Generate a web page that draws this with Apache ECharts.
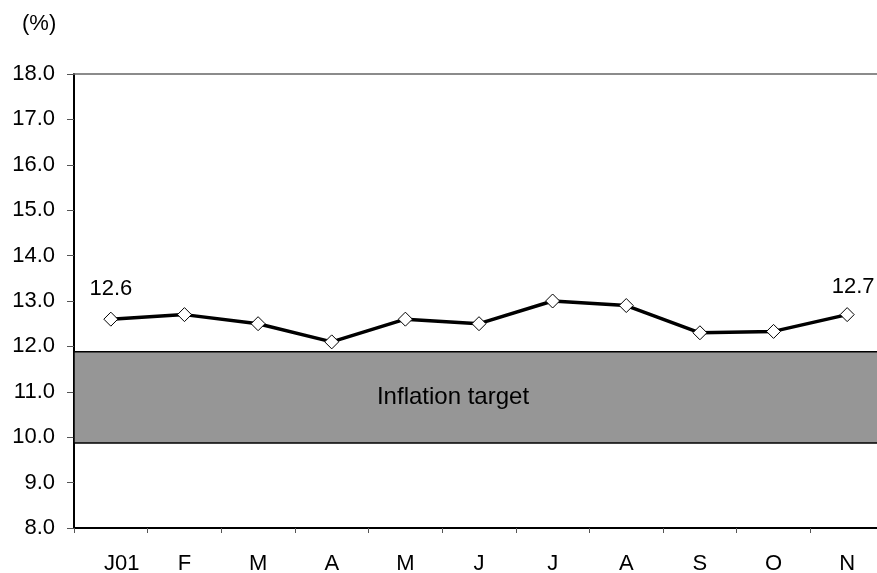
<!DOCTYPE html>
<html>
<head>
<meta charset="utf-8">
<script src="https://cdn.jsdelivr.net/npm/echarts@6/dist/echarts.min.js"></script>
<style>
  html, body { margin: 0; padding: 0; background: #fff; overflow: hidden; }
  body { width: 877px; height: 573px; }
  #chart { width: 900px; height: 573px; }
</style>
</head>
<body>
<div id="chart"></div>
<script>
// Monthly inflation, 2001
const months = ['J01', 'F', 'M', 'A', 'M', 'J', 'J', 'A', 'S', 'O', 'N'];
const inflation = [12.6, 12.7, 12.5, 12.1, 12.6, 12.5, 13.0, 12.9, 12.3, 12.33, 12.7];
const targetBand = [9.87, 11.88];
const yTicks = { min: 8, max: 18, step: 1 };

const FONT = '"Liberation Sans", Arial, sans-serif';
const FS = 22;
const lastIdx = inflation.length - 1;

// Only the first and last points carry a value label
const lineData = inflation.map(function (v, i) {
  if (i === 0) return { value: v, label: { show: true, distance: 12 } };
  if (i === lastIdx) return { value: v, label: { show: true, distance: 9, offset: [6, 0] } };
  return v;
});

const chart = echarts.init(document.getElementById('chart'), null, { renderer: 'canvas' });

chart.setOption({
  animation: false,
  backgroundColor: '#ffffff',
  textStyle: { fontFamily: FONT },
  graphic: [{
    type: 'text', left: 22, top: 13,
    style: { text: '(%)', font: FS + 'px ' + FONT, fill: '#000' }
  }],
  grid: {
    left: 74, top: 74, width: 810, height: 454,
    containLabel: false, outerBoundsMode: 'none'
  },
  xAxis: [{
    type: 'category',
    data: months,
    boundaryGap: true,
    axisLine: { lineStyle: { color: '#000', width: 2 } },
    axisTick: { show: true, interval: 0, length: 5, lineStyle: { color: '#555', width: 1 } },
    axisLabel: {
      interval: 0,
      margin: 25,
      fontSize: FS, color: '#000', fontFamily: FONT,
      formatter: function (v, i) { return i === 0 ? '{first|' + v + '}' : v; },
      rich: { first: { fontSize: FS, fontFamily: FONT, color: '#000', padding: [0, 0, 0, 22] } }
    },
    splitLine: { show: false }
  }, {
    type: 'category',
    position: 'top',
    data: months,
    axisLine: { lineStyle: { color: '#666', width: 1.5 } },
    axisTick: { show: false },
    axisLabel: { show: false }
  }],
  yAxis: {
    type: 'value',
    min: yTicks.min, max: yTicks.max, interval: yTicks.step,
    axisLine: { show: true, lineStyle: { color: '#000', width: 2 } },
    axisTick: { show: true, length: 7, lineStyle: { color: '#555', width: 1 } },
    axisLabel: {
      margin: 19, fontSize: FS, color: '#000', fontFamily: FONT,
      formatter: function (v) { return v.toFixed(1); }
    },
    splitLine: { show: false }
  },
  series: [{
    type: 'line',
    data: lineData,
    symbol: 'diamond',
    symbolSize: 14,
    showAllSymbol: true,
    lineStyle: { color: '#000', width: 3.5 },
    itemStyle: { color: '#fff', borderColor: '#000', borderWidth: 1 },
    z: 5,
    label: {
      show: false,
      position: 'top',
      fontSize: FS, color: '#000', fontFamily: FONT,
      formatter: function (p) { return p.value.toFixed(1); }
    },
    emphasis: { disabled: true },
    markArea: {
      silent: true,
      itemStyle: { color: '#969696', borderColor: '#000', borderWidth: 1.5 },
      label: {
        show: true, position: 'inside', offset: [-26, 0],
        fontSize: 24, color: '#000', fontFamily: FONT
      },
      data: [[
        { name: 'Inflation target', yAxis: targetBand[0] },
        { yAxis: targetBand[1] }
      ]]
    }
  }]
});
</script>
</body>
</html>
